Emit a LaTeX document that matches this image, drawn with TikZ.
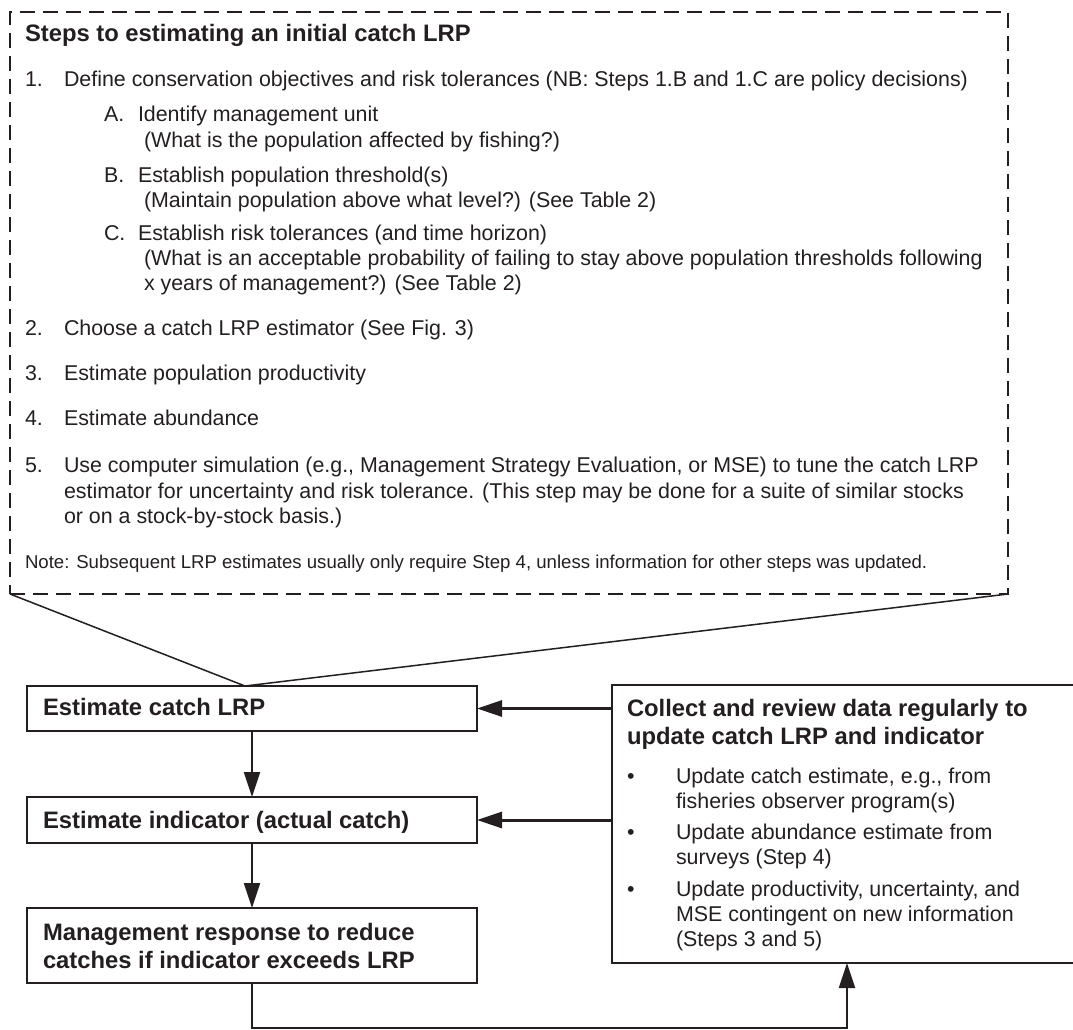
\documentclass[tikz,border=0pt]{standalone}
\usepackage{fontspec}
\setmainfont{Liberation Sans}
\usetikzlibrary{arrows.meta}
\definecolor{ink}{HTML}{231F20}
\begin{document}
\begin{tikzpicture}[x=1pt,y=-1pt,
  txt/.style={anchor=base west, inner sep=0pt, outer sep=0pt, text=ink, font=\fontsize{21.4}{25}\selectfont},
  bld/.style={txt, font=\fontsize{23.8}{28}\selectfont\bfseries},
  notetxt/.style={txt, font=\fontsize{18.6}{22}\selectfont},
  boxnode/.style={draw=ink, line width=2.2pt, inner sep=0pt, outer sep=0pt, rectangle},
  arr/.style={draw=ink, line width=3pt, -{Triangle[length=25pt,width=16pt]}},
  funnel/.style={draw=ink, line width=1.5pt}
]
\useasboundingbox (0,0) rectangle (1073,1030);

% boxes
\node[boxnode, line width=1.6pt, dash pattern=on 15pt off 8pt, minimum width=998pt, minimum height=582pt] (steps) at (509,303) {};
\node[boxnode, minimum width=450pt, minimum height=45pt] (box1) at (252,708.5) {};
\node[boxnode, minimum width=450pt, minimum height=46pt] (box2) at (252,820) {};
\node[boxnode, minimum width=450pt, minimum height=75pt] (box3) at (252,945.5) {};
\node[boxnode, minimum width=463pt, minimum height=278pt] (rbox) at (843.5,824) {};

% steps text
\node[bld] (t0) at (25,42) {Steps to estimating an initial catch LRP};
\node[txt] (n1) at (25,87) {1.};
\node[txt] (s1) at (64,87) {Define conservation objectives and risk tolerances (NB: Steps 1.B and 1.C are policy decisions)};
\node[txt] (nA) at (104,122) {A.};
\node[txt] (sA) at (138,122) {Identify management unit};
\node[txt] (sA2) at (144,147) {(What is the population affected by fishing?)};
\node[txt] (nB) at (104,182) {B.};
\node[txt] (sB) at (138,182) {Establish population threshold(s)};
\node[txt] (sB2) at (144,207) {(Maintain population above what level?) (See Table 2)};
\node[txt] (nC) at (104,240) {C.};
\node[txt] (sC) at (138,240) {Establish risk tolerances (and time horizon)};
\node[txt] (sC2) at (144,265) {(What is an acceptable probability of failing to stay above population thresholds following};
\node[txt] (sC3) at (144,290) {x years of management?) (See Table 2)};
\node[txt] (n2) at (25,335) {2.};
\node[txt] (s2) at (64,335) {Choose a catch LRP estimator (See Fig. 3)};
\node[txt] (n3) at (25,380) {3.};
\node[txt] (s3) at (64,380) {Estimate population productivity};
\node[txt] (n4) at (25,425) {4.};
\node[txt] (s4) at (64,425) {Estimate abundance};
\node[txt] (n5) at (25,472) {5.};
\node[txt] (s5) at (64,472) {Use computer simulation (e.g., Management Strategy Evaluation, or MSE) to tune the catch LRP};
\node[txt] (s5b) at (64,498) {estimator for uncertainty and risk tolerance. (This step may be done for a suite of similar stocks};
\node[txt] (s5c) at (64,523) {or on a stock-by-stock basis.)};
\node[notetxt] (note) at (25,568) {Note: Subsequent LRP estimates usually only require Step 4, unless information for other steps was updated.};

% funnel
\coordinate (apex) at (245,686);
\draw[funnel] (steps.south west) -- (apex) -- (steps.south east);

% left boxes text
\node[bld] (b1) at (43,715) {Estimate catch LRP};
\node[bld] (b2) at (43,828) {Estimate indicator (actual catch)};
\node[bld] (b3a) at (43,940) {Management response to reduce};
\node[bld] (b3b) at (43,968) {catches if indicator exceeds LRP};

% right box text
\node[bld] (r1) at (627,716) {Collect and review data regularly to};
\node[bld] (r2) at (627,744) {update catch LRP and indicator};
\node[txt] (d1) at (627,783) {•};
\node[txt] (u1) at (676,783) {Update catch estimate, e.g., from};
\node[txt] (u1b) at (676,808) {fisheries observer program(s)};
\node[txt] (d2) at (627,839) {•};
\node[txt] (u2) at (676,839) {Update abundance estimate from};
\node[txt] (u2b) at (676,864) {surveys (Step 4)};
\node[txt] (d3) at (627,896) {•};
\node[txt] (u3) at (676,896) {Update productivity, uncertainty, and};
\node[txt] (u3b) at (676,921) {MSE contingent on new information};
\node[txt] (u3c) at (676,946) {(Steps 3 and 5)};

% connectors
\draw[arr] (rbox.west |- box1.east) -- (box1.east);
\draw[arr] (rbox.west |- box2.east) -- (box2.east);
\draw[arr, line width=2.3pt] (box1.south) -- (box2.north);
\draw[arr, line width=2.3pt] (box2.south) -- (box3.north);
\coordinate (lp) at (847,1028);
\draw[arr, line width=2.3pt] (box3.south) |- (lp) -- (lp |- rbox.south);
\end{tikzpicture}
\end{document}
